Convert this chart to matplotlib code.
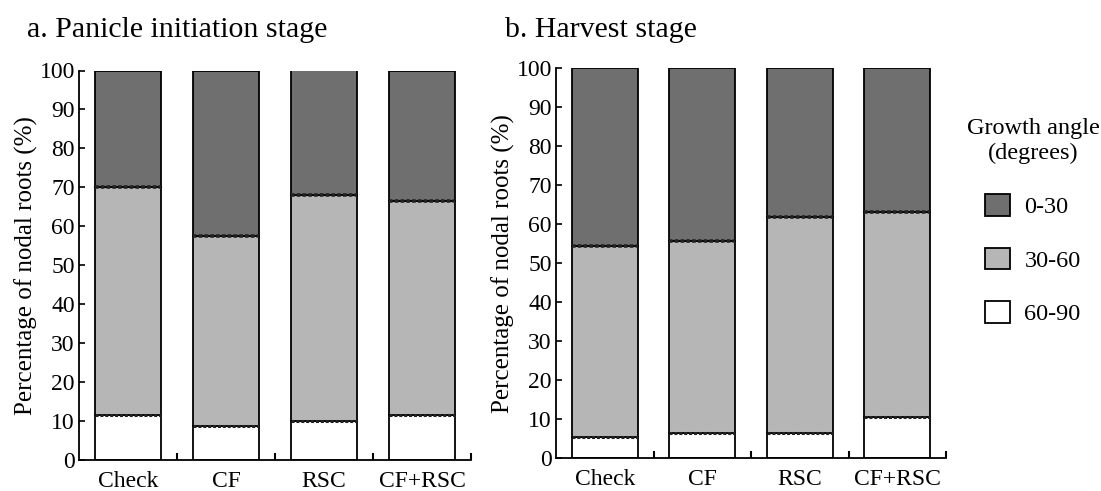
import matplotlib
matplotlib.use("Agg")
import matplotlib.pyplot as plt
import numpy as np

categories = ["Check", "CF", "RSC", "CF+RSC"]
series = ["0-30", "30-60", "60-90"]

# Panel a: Panicle initiation stage (percent)
a_60_90 = [11.5, 8.7, 10.0, 11.6]
a_30_60 = [58.5, 48.8, 58.0, 55.0]
a_0_30 = [30.0, 42.5, 32.0, 33.4]

# Panel b: Harvest stage (percent)
b_60_90 = [5.4, 6.6, 6.6, 10.6]
b_30_60 = [49.1, 49.1, 55.2, 52.6]
b_0_30 = [45.5, 44.3, 38.2, 36.8]

yticks = list(range(0, 101, 10))

colors = {"0-30": "#6f6f6f", "30-60": "#b6b6b6", "60-90": "#ffffff"}

plt.rcParams["font.family"] = ["Liberation Serif", "DejaVu Serif"]

fig = plt.figure(figsize=(11.01, 4.91), dpi=100)
ax_a = fig.add_axes([79 / 1101, 1 - 460 / 491, 392 / 1101, 389.5 / 491])
ax_b = fig.add_axes([556 / 1101, 1 - 458.3 / 491, 390 / 1101, 390 / 491])


def draw(ax, v6090, v3060, v030):
    x = np.arange(len(categories))
    w = 0.68
    h3 = ax.bar(x, v6090, w, color=colors["60-90"], edgecolor="black", linewidth=1.3, zorder=2)
    b2 = np.array(v6090)
    h2 = ax.bar(x, v3060, w, bottom=b2, color=colors["30-60"], edgecolor="black", linewidth=1.3, zorder=2)
    b1 = b2 + np.array(v3060)
    h1 = ax.bar(x, v030, w, bottom=b1, color=colors["0-30"], edgecolor="black", linewidth=1.3, zorder=2)
    # thick dotted boundary lines
    for xi, yb in zip(x, b2):
        ax.plot([xi - w / 2, xi + w / 2], [yb, yb], color="#222222", lw=2.2, ls=(0, (1, 0.6)), zorder=3)
    for xi, yb in zip(x, b1):
        ax.plot([xi - w / 2, xi + w / 2], [yb, yb], color="#222222", lw=2.6, ls=(0, (1, 0.6)), zorder=3)
    ax.set_xlim(-0.5, len(categories) - 0.5)
    ax.set_ylim(0, 100)
    ax.set_yticks(yticks)
    ax.set_yticklabels([str(t) for t in yticks], fontsize=17)
    ax.set_xticks(x)
    ax.set_xticklabels(categories, fontsize=17)
    ax.tick_params(axis="x", length=0, pad=8)
    ax.tick_params(axis="y", direction="in", length=4, width=1.2, pad=3)
    ax.set_xticks(np.arange(len(categories)) + 0.5, minor=True)
    ax.tick_params(axis="x", which="minor", direction="in", length=5, width=1.5)
    for s in ["top", "right"]:
        ax.spines[s].set_visible(False)
    for s in ["left", "bottom"]:
        ax.spines[s].set_linewidth(1.3)
    ax.set_ylabel("Percentage of nodal roots (%)", fontsize=18, labelpad=1)
    return h1, h2, h3


draw(ax_a, a_60_90, a_30_60, a_0_30)
h1, h2, h3 = draw(ax_b, b_60_90, b_30_60, b_0_30)

fig.text(27 / 1101, 1 - 37 / 491, "a. Panicle initiation stage", fontsize=21.5, ha="left", va="baseline")
fig.text(505 / 1101, 1 - 37 / 491, "b. Harvest stage", fontsize=21.5, ha="left", va="baseline")

leg = fig.legend([h1, h2, h3], series, loc="upper center", bbox_to_anchor=(1033 / 1101, 1 - 106 / 491),
                 frameon=False, fontsize=17.5, title="Growth angle\n(degrees)", title_fontsize=17.5,
                 borderpad=0, handlelength=1.0, handleheight=1.0, handletextpad=0.6, labelspacing=1.2)
leg.get_title().set_multialignment("center")
leg._legend_box.align = "center"
leg._legend_box.sep = 22

fig.savefig("out.png", dpi=100)
